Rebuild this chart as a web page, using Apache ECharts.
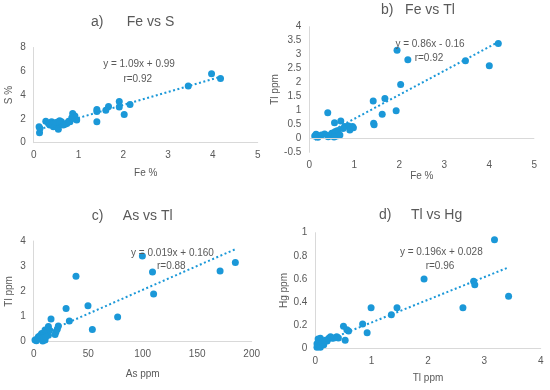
<!DOCTYPE html>
<html>
<head>
<meta charset="utf-8">
<script src="https://cdn.jsdelivr.net/npm/echarts@6/dist/echarts.min.js"></script>
<style>
html,body{margin:0;padding:0;background:#fff;}
#main{width:550px;height:390px;}
</style>
</head>
<body>
<div id="main"></div>
<script>
// ---- Data ----
const feA = [0.13,0.14,0.12,0.27,0.33,0.36,0.40,0.44,0.48,0.51,0.55,0.55,0.59,0.62,0.66,0.74,0.81,0.87,0.87,0.92,0.96,0.42,0.50,0.58,0.70,0.78,0.85,1.41,1.41,1.41,1.61,1.67,1.91,1.91,2.02,2.15,3.45,3.97,4.17];
const sA  = [0.84,1.2,1.35,1.8,1.62,1.48,1.76,1.34,1.6,1.34,1.76,1.12,1.54,1.76,1.48,1.62,1.76,2.04,2.46,2.24,1.9,1.55,1.7,1.85,1.55,1.8,2.1,2.8,2.62,1.76,2.72,3.04,3.46,3.0,2.36,3.22,4.76,5.79,5.4];

const feB = [0.12,0.15,0.16,0.19,0.27,0.34,0.42,0.45,0.50,0.57,0.61,0.64,0.68,0.55,0.41,0.56,0.70,0.79,0.87,0.96,0.90,0.98,0.75,1.42,1.43,1.44,1.62,1.68,1.93,1.95,2.03,2.19,3.47,4.0,4.2];
const tlB = [0.08,0.15,0.12,0.04,0.12,0.16,0.06,0.1,0.18,0.24,0.08,0.28,0.12,0.05,0.92,0.56,0.62,0.42,0.44,0.42,0.30,0.38,0.35,1.34,0.54,0.49,0.86,1.43,0.99,3.16,1.93,2.82,2.78,2.6,3.4];

const asC = [1.2,2.5,4.3,5.2,7.3,8.3,10.4,10.4,12,13.5,13.5,3,6,9,11,14.5,19.6,20.5,21.7,22.6,15.9,29.7,32.7,38.8,49.8,53.8,77,99.7,109,110,171,185];
const tlC = [0.07,0.04,0.2,0.13,0.33,0.03,0.46,0.07,0.35,0.6,0.26,0.1,0.25,0.15,0.2,0.45,0.29,0.4,0.5,0.62,0.9,1.32,0.82,2.6,1.43,0.48,0.98,3.4,2.77,1.89,2.81,3.15];

const tlD = [0.03,0.03,0.06,0.09,0.09,0.15,0.15,0.21,0.24,0.30,0.38,0.41,0.05,0.12,0.18,0.27,0.33,0.50,0.56,0.59,0.53,0.84,0.92,0.99,1.35,1.45,1.93,2.62,2.81,2.83,3.18,3.43];
const hgD = [0.01,0.04,0.06,0.087,0.01,0.06,0.03,0.063,0.087,0.087,0.10,0.09,0.08,0.05,0.07,0.1,0.09,0.19,0.16,0.15,0.07,0.21,0.135,0.35,0.29,0.35,0.60,0.35,0.58,0.55,0.94,0.45];

const panelTitles = ['a)      Fe vs S', 'b)   Fe vs Tl', 'c)     As vs Tl', 'd)     Tl vs Hg'];
const xNames = ['Fe %', 'Fe %', 'As ppm', 'Tl ppm'];
const yNames = ['S %', 'Tl ppm', 'Tl ppm', 'Hg ppm'];
const slopes = [1.09, 0.86, 0.019, 0.196];
const intercepts = [0.99, -0.16, 0.160, 0.028];
const eqTexts = ['y = 1.09x + 0.99', 'y = 0.86x - 0.16', 'y = 0.019x + 0.160', 'y = 0.196x + 0.028'];
const rTexts = ['r=0.92', 'r=0.92', 'r=0.88', 'r=0.96'];

// axis ranges
const xMin = [0, 0, 0, 0], xMax = [5, 5, 200, 4], xInt = [1, 1, 50, 1];
const yMin = [0, -0.5, 0, 0], yMax = [8, 4, 4, 1], yInt = [2, 0.5, 1, 0.2];

const xs = [feA, feB, asC, tlD];
const ys = [sA, tlB, tlC, hgD];

// ---- Layout ----
const grids = [
  {left: 33.7, right: 292.3, top: 47.5, bottom: 247.3},
  {left: 309.3, right: 15.7, top: 26.7, bottom: 237.7},
  {left: 33.7, right: 298.3, top: 241, bottom: 48.3},
  {left: 315.3, right: 9.3, top: 232.7, bottom: 41.7}
];
const xNameGap = [26, 15, 28, 25];
const yNameGap = [19, 19.5, 19, 25];
const titlePos = [{left: 91, top: 15}, {left: 381, top: 3}, {left: 91.7, top: 209}, {left: 379, top: 208}];
const eqPos = [[139, 64.3, 137.7, 79], [430, 44.3, 429, 58.3], [172.5, 253.7, 171.3, 266.5], [441.3, 252.3, 440, 266]];

const BLUE = '#1b98d8';
const GRAY = '#595959';
const LINE = '#d9d9d9';
const FONT = 'Liberation Sans';

const option = {
  animation: false,
  backgroundColor: '#fff',
  title: panelTitles.map((t, i) => ({
    text: t, left: titlePos[i].left, top: titlePos[i].top, padding: 0,
    textStyle: {color: GRAY, fontSize: 14, fontWeight: 'normal', fontFamily: FONT}
  })),
  grid: grids,
  xAxis: grids.map((g, i) => ({
    type: 'value', gridIndex: i, min: xMin[i], max: xMax[i], interval: xInt[i],
    name: xNames[i], nameLocation: 'middle', nameGap: xNameGap[i],
    nameTextStyle: {color: GRAY, fontSize: 10, fontFamily: FONT},
    axisLine: {show: i !== 1, onZero: false, lineStyle: {color: LINE, width: 1}},
    axisTick: {show: false},
    splitLine: {show: false},
    axisLabel: {color: GRAY, fontSize: 10, fontFamily: FONT, margin: 8}
  })),
  yAxis: grids.map((g, i) => ({
    type: 'value', gridIndex: i, min: yMin[i], max: yMax[i], interval: yInt[i],
    name: yNames[i], nameLocation: 'middle', nameGap: yNameGap[i],
    nameTextStyle: {color: GRAY, fontSize: 10, fontFamily: FONT},
    axisLine: {show: true, lineStyle: {color: LINE, width: 1}},
    axisTick: {show: false},
    splitLine: {show: false},
    axisLabel: {color: GRAY, fontSize: 10, fontFamily: FONT, margin: 8}
  })),
  graphic: eqTexts.flatMap((t, i) => ([
    {type: 'text', x: eqPos[i][0], y: eqPos[i][1], z: 100,
     style: {text: t, fill: GRAY, font: '10px ' + FONT, align: 'center', verticalAlign: 'middle', textAlign: 'center', textVerticalAlign: 'middle'}},
    {type: 'text', x: eqPos[i][2], y: eqPos[i][3], z: 100,
     style: {text: rTexts[i], fill: GRAY, font: '10px ' + FONT, align: 'center', verticalAlign: 'middle', textAlign: 'center', textVerticalAlign: 'middle'}}
  ])),
  series: []
};

for (let i = 0; i < 4; i++) {
  const pts = xs[i].map((x, k) => [x, ys[i][k]]);
  const lo = Math.min(...xs[i]), hi = Math.max(...xs[i]);
  const s = {
    type: 'scatter', xAxisIndex: i, yAxisIndex: i, data: pts,
    symbolSize: 7, itemStyle: {color: BLUE, opacity: 1}, z: 3
  };
  if (i === 1) {
    s.markLine = {
      silent: true, symbol: ['none', 'none'], label: {show: false},
      lineStyle: {color: LINE, width: 1, type: 'solid'},
      data: [{yAxis: 0}]
    };
  }
  option.series.push(s);
  option.series.push({
    type: 'line', xAxisIndex: i, yAxisIndex: i, showSymbol: false, symbol: 'none', z: 4,
    data: [[lo, slopes[i] * lo + intercepts[i]], [hi, slopes[i] * hi + intercepts[i]]],
    lineStyle: {color: BLUE, width: 2, type: [2, 2.5]}
  });
}

const chart = echarts.init(document.getElementById('main'), null, {renderer: 'canvas'});
chart.setOption(option);
</script>
</body>
</html>
